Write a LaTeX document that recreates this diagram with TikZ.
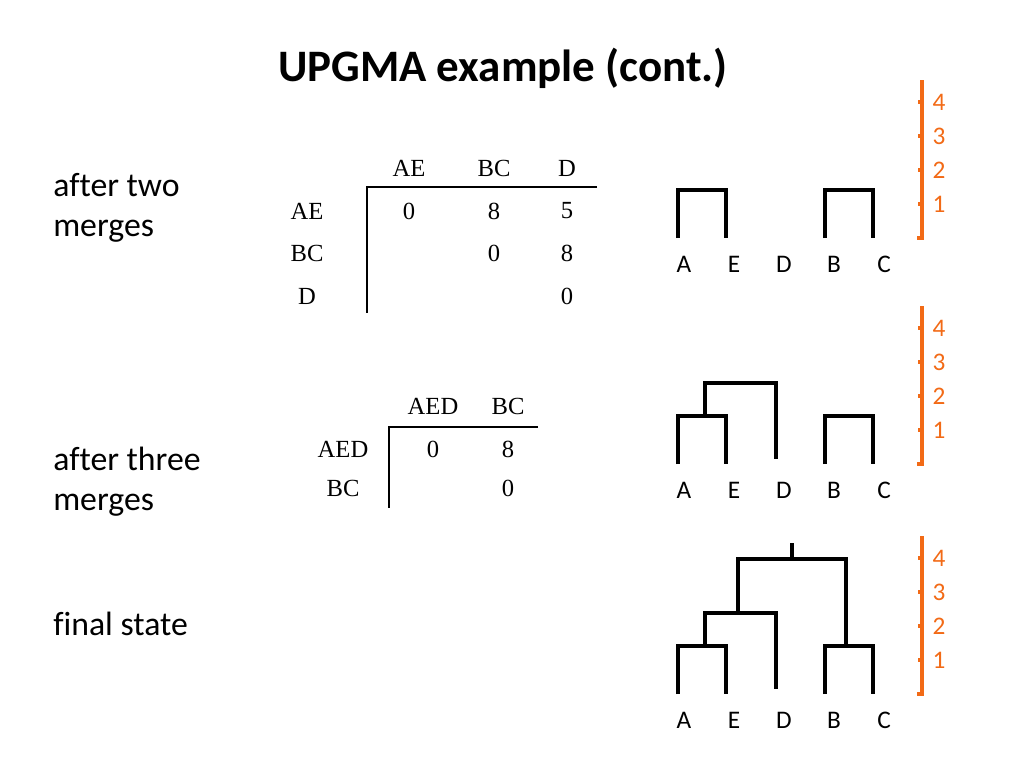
\documentclass[tikz,border=0pt]{standalone}
\usepackage{fontspec}
\setmainfont{Liberation Serif}
\newfontfamily\calibri[Ligatures=NoCommon]{Carlito}
\usetikzlibrary{positioning}
\definecolor{scaleorange}{RGB}{242,106,22}

\begin{document}
\begin{tikzpicture}[x=0.025cm,y=-0.025cm,
	sidelabel/.style={anchor=west,align=left,inner sep=0pt,font=\calibri\fontsize{24}{28.5}\selectfont},
	cell/.style={inner sep=0pt,font=\fontsize{17.5}{20}\selectfont},
	leaf/.style={inner sep=0pt,font=\calibri\fontsize{18}{20}\selectfont},
	tree/.style={line width=2.5pt,line join=miter},
	rule/.style={line width=1pt},
	scalebar/.style={scaleorange,line width=2.3pt},
	scalenum/.style={scaleorange,inner sep=0pt,anchor=center,font=\calibri\fontsize{18}{20}\selectfont}]
	\useasboundingbox (0,0) rectangle (1024,768);

	% title and side labels
	\node[font=\calibri\bfseries\fontsize{32}{36}\selectfont] (title) at (503,68) {UPGMA example (cont.)};
	\node[sidelabel] (lab1) at (53,208) {after two\\merges};
	\node[sidelabel] (lab2) at (53,482) {after three\\merges};
	\node[sidelabel] (lab3) at (53,624) {final state};

	% first distance table
	\node[cell] (h1AE) at (409,168) {AE};
	\node[cell] (h1BC) at (494,168) {BC};
	\node[cell] (h1D) at (567,168) {D};
	\node[cell] (r1AE) at (307,211) {AE};
	\node[cell] (r1BC) at (307,253) {BC};
	\node[cell] (r1D) at (307,296) {D};
	\node[cell] at (409,211) {0};
	\node[cell] at (494,211) {8};
	\node[cell] at (567,211) {5};
	\node[cell] at (494,253) {0};
	\node[cell] at (567,253) {8};
	\node[cell] at (567,296) {0};
	\draw[rule] (597,187) -- (367,187) -- (367,313);

	% second distance table
	\node[cell] (h2AED) at (433,406) {AED};
	\node[cell] (h2BC) at (508,406) {BC};
	\node[cell] (r2AED) at (343,449) {AED};
	\node[cell] (r2BC) at (343,488) {BC};
	\node[cell] at (433,449) {0};
	\node[cell] at (508,449) {8};
	\node[cell] at (508,488) {0};
	\draw[rule] (538,427) -- (389,427) -- (389,508);

	% trees with their scales
	\foreach \base/\step in {238/1, 464/2, 694/3} {
		\begin{scope}[shift={(0,\base)}]
			\foreach \name/\x in {A/684, E/734, D/784, B/834, C/884}
				\node[leaf] (\name\step) at (\x,26) {\name};
			\draw[scalebar] (917,0) -- (922,0) -- (922,-158);
			\foreach \k in {1,...,4} {
				\draw[scalebar] (918,-34*\k) -- (922,-34*\k);
				\node[scalenum] (num\step\k) at (939,-34*\k) {\k};
			}
			\draw[tree] (825,0) |- (873,-48) -- (873,0);
		\end{scope}
	}

	% merges of the first tree
	\begin{scope}[shift={(0,238)}]
		\draw[tree] (678,0) |- (726,-48) -- (726,0);
	\end{scope}

	% merges of the second tree
	\begin{scope}[shift={(0,464)}]
		\draw[tree] (678,0) |- (726,-48) -- (726,0);
		\draw[tree] (705,-48) |- (776,-81) -- (776,-5);
	\end{scope}

	% merges of the final tree
	\begin{scope}[shift={(0,694)}]
		\draw[tree] (678,0) |- (726,-48) -- (726,0);
		\draw[tree] (705,-48) |- (776,-81) -- (776,-5);
		\draw[tree] (738,-81) |- (846,-135) -- (846,-48);
		\draw[tree] (792,-135) -- (792,-151);
	\end{scope}
\end{tikzpicture}
\end{document}
